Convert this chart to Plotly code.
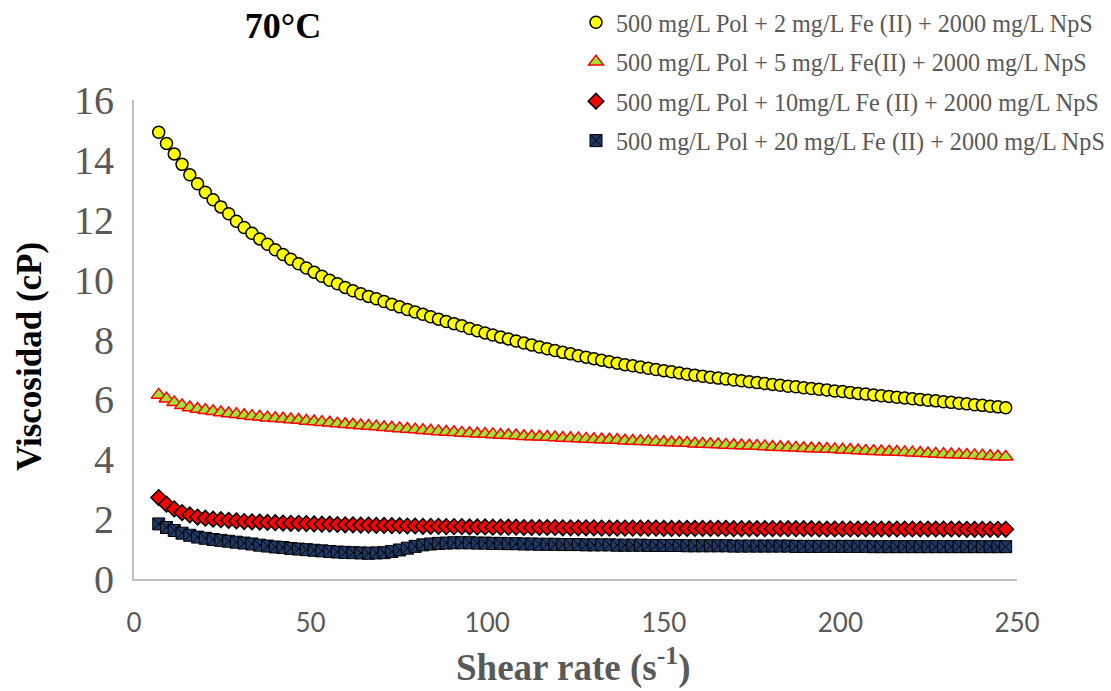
import plotly.graph_objects as go

shear_rate = [7.0, 9.2, 11.4, 13.6, 15.8, 18.0, 20.2, 22.4, 24.6, 26.8,
              29.0, 31.2, 33.4, 35.6, 37.8, 40.0, 42.2, 44.4, 46.6, 48.8,
              51.0, 53.2, 55.4, 57.6, 59.8, 62.0, 64.2, 66.4, 68.6, 70.8,
              73.0, 75.2, 77.4, 79.6, 81.8, 84.0, 86.2, 88.4, 90.6, 92.8,
              95.0, 97.2, 99.4, 101.6, 103.8, 106.0, 108.2, 110.4, 112.6, 114.8,
              117.0, 119.2, 121.4, 123.6, 125.8, 128.0, 130.2, 132.4, 134.6, 136.8,
              139.0, 141.2, 143.4, 145.6, 147.8, 150.0, 152.2, 154.4, 156.6, 158.8,
              161.0, 163.2, 165.4, 167.6, 169.8, 172.0, 174.2, 176.4, 178.6, 180.8,
              183.0, 185.2, 187.4, 189.6, 191.8, 194.0, 196.2, 198.4, 200.6, 202.8,
              205.0, 207.2, 209.4, 211.6, 213.8, 216.0, 218.2, 220.4, 222.6, 224.8,
              227.0, 229.2, 231.4, 233.6, 235.8, 238.0, 240.2, 242.4, 244.6, 246.8]

visc_fe2 = [14.92, 14.55, 14.2, 13.85, 13.5, 13.2, 12.92, 12.67, 12.43, 12.2,
            11.95, 11.74, 11.55, 11.36, 11.18, 11.0, 10.84, 10.68, 10.53, 10.39,
            10.25, 10.11, 9.98, 9.86, 9.74, 9.63, 9.53, 9.44, 9.36, 9.27,
            9.18, 9.09, 9.0, 8.92, 8.84, 8.76, 8.68, 8.6, 8.53, 8.46,
            8.37, 8.29, 8.22, 8.15, 8.08, 8.02, 7.95, 7.88, 7.82, 7.75,
            7.69, 7.63, 7.57, 7.52, 7.46, 7.41, 7.36, 7.31, 7.26, 7.21,
            7.16, 7.12, 7.08, 7.04, 7.0, 6.96, 6.92, 6.88, 6.84, 6.81,
            6.77, 6.74, 6.71, 6.68, 6.65, 6.62, 6.59, 6.56, 6.53, 6.5,
            6.47, 6.44, 6.42, 6.39, 6.36, 6.34, 6.31, 6.28, 6.26, 6.23,
            6.2, 6.18, 6.15, 6.12, 6.1, 6.07, 6.05, 6.02, 6.0, 5.97,
            5.95, 5.92, 5.9, 5.87, 5.85, 5.82, 5.8, 5.77, 5.75, 5.72]

visc_fe5 = [6.15, 6.02, 5.9, 5.8, 5.73, 5.68, 5.64, 5.6, 5.56, 5.53,
            5.5, 5.47, 5.44, 5.42, 5.39, 5.37, 5.35, 5.33, 5.31, 5.28,
            5.26, 5.24, 5.22, 5.19, 5.17, 5.15, 5.13, 5.11, 5.09, 5.07,
            5.05, 5.03, 5.01, 4.99, 4.97, 4.95, 4.93, 4.91, 4.9, 4.88,
            4.87, 4.85, 4.84, 4.83, 4.81, 4.8, 4.79, 4.77, 4.76, 4.75,
            4.74, 4.73, 4.71, 4.7, 4.69, 4.68, 4.67, 4.66, 4.65, 4.64,
            4.62, 4.61, 4.6, 4.59, 4.58, 4.57, 4.56, 4.55, 4.54, 4.52,
            4.51, 4.5, 4.49, 4.48, 4.47, 4.46, 4.45, 4.44, 4.43, 4.41,
            4.4, 4.39, 4.38, 4.37, 4.36, 4.35, 4.34, 4.33, 4.32, 4.31,
            4.29, 4.28, 4.27, 4.26, 4.25, 4.24, 4.23, 4.22, 4.21, 4.19,
            4.18, 4.17, 4.16, 4.15, 4.14, 4.13, 4.12, 4.1, 4.09, 4.08]

visc_fe10 = [2.72, 2.5, 2.34, 2.22, 2.14, 2.07, 2.03, 2.0, 1.98, 1.96,
             1.94, 1.92, 1.91, 1.9, 1.89, 1.88, 1.87, 1.86, 1.86, 1.85,
             1.84, 1.83, 1.83, 1.82, 1.81, 1.81, 1.8, 1.8, 1.79, 1.79,
             1.78, 1.78, 1.77, 1.77, 1.76, 1.76, 1.76, 1.75, 1.75, 1.75,
             1.74, 1.74, 1.74, 1.73, 1.73, 1.73, 1.73, 1.72, 1.72, 1.72,
             1.72, 1.72, 1.71, 1.71, 1.71, 1.71, 1.71, 1.7, 1.7, 1.7,
             1.7, 1.7, 1.7, 1.7, 1.7, 1.69, 1.69, 1.69, 1.69, 1.69,
             1.69, 1.69, 1.69, 1.69, 1.68, 1.68, 1.68, 1.68, 1.68, 1.68,
             1.68, 1.68, 1.68, 1.68, 1.68, 1.67, 1.67, 1.67, 1.67, 1.67,
             1.67, 1.67, 1.67, 1.67, 1.67, 1.67, 1.67, 1.67, 1.67, 1.67,
             1.67, 1.67, 1.67, 1.67, 1.66, 1.66, 1.66, 1.66, 1.66, 1.66]

visc_fe20 = [1.84, 1.72, 1.62, 1.53, 1.46, 1.4, 1.36, 1.32, 1.29, 1.26,
             1.23, 1.2, 1.17, 1.13, 1.1, 1.07, 1.05, 1.02, 1.0, 0.98,
             0.96, 0.94, 0.92, 0.9, 0.89, 0.88, 0.87, 0.86, 0.87, 0.88,
             0.92, 0.97, 1.03, 1.09, 1.14, 1.17, 1.19, 1.2, 1.21, 1.21,
             1.21, 1.2, 1.2, 1.19, 1.19, 1.18, 1.18, 1.17, 1.17, 1.16,
             1.16, 1.16, 1.15, 1.15, 1.15, 1.14, 1.14, 1.14, 1.14, 1.13,
             1.13, 1.13, 1.13, 1.12, 1.12, 1.12, 1.12, 1.12, 1.11, 1.11,
             1.11, 1.11, 1.11, 1.11, 1.1, 1.1, 1.1, 1.1, 1.1, 1.1,
             1.1, 1.1, 1.09, 1.09, 1.09, 1.09, 1.09, 1.09, 1.09, 1.09,
             1.09, 1.09, 1.08, 1.08, 1.08, 1.08, 1.08, 1.08, 1.08, 1.08,
             1.08, 1.08, 1.08, 1.08, 1.08, 1.08, 1.08, 1.08, 1.08, 1.08]

series_names = [
    "500 mg/L Pol + 2 mg/L Fe (II) + 2000 mg/L NpS",
    "500 mg/L Pol + 5 mg/L Fe(II) + 2000 mg/L NpS",
    "500 mg/L Pol + 10mg/L Fe (II) + 2000 mg/L NpS",
    "500 mg/L Pol + 20 mg/L Fe (II) + 2000 mg/L NpS",
]

x_ticks = [0, 50, 100, 150, 200, 250]
y_ticks = [0, 2, 4, 6, 8, 10, 12, 14, 16]

styles = [
    dict(symbol="circle", size=12, color="#FFFF00", line=dict(color="#000000", width=1.5)),
    dict(symbol="triangle-up", size=13, color="#99E633", line=dict(color="#FF0000", width=1.5)),
    dict(symbol="diamond", size=12, color="#FF0000", line=dict(color="#000000", width=1.5)),
    dict(symbol="square-x", size=12, color="#1F3864", line=dict(color="#000000", width=1)),
]

fig = go.Figure()
for i, (name, vals) in enumerate(zip(series_names, [visc_fe2, visc_fe5, visc_fe10, visc_fe20])):
    fig.add_trace(go.Scatter(
        x=shear_rate, y=vals, mode="markers", name=name,
        marker=styles[i], legendgroup=f"g{i}",
    ))

L, R, T, B = 134, 94, 100, 112
W, H = 1111, 691
pw = W - L - R
ph = H - T - B

fig.update_layout(
    width=W, height=H,
    margin=dict(l=L, r=R, t=T, b=B, autoexpand=False),
    plot_bgcolor="white", paper_bgcolor="white",
    showlegend=True,
    legend=dict(
        xref="container", yref="container",
        x=576 / W, y=1 - 0 / H, xanchor="left", yanchor="top",
        font=dict(family="Liberation Serif", size=24.2, color="#595959"),
        bgcolor="rgba(0,0,0,0)", tracegroupgap=5,
        itemsizing="trace", itemwidth=30,
    ),
    title=dict(
        text="<b>70°C</b>", xref="container", yref="container",
        x=283 / W, y=1 - 25 / H, xanchor="center", yanchor="middle",
        font=dict(family="Liberation Serif", size=36, color="#000000"),
    ),
    xaxis=dict(
        range=[0, 250], tickvals=x_ticks, ticktext=[str(v) for v in x_ticks],
        showline=True, linecolor="#BFBFBF", linewidth=2, showgrid=False, zeroline=False,
        ticks="", ticklabelstandoff=20,
        tickfont=dict(family="Lato", size=26, color="#595959"),
    ),
    yaxis=dict(
        range=[0, 16], tickvals=y_ticks, ticktext=[str(v) for v in y_ticks],
        showline=True, linecolor="#BFBFBF", linewidth=2, showgrid=False, zeroline=False,
        ticks="", ticklabelstandoff=10,
        tickfont=dict(family="Liberation Serif", size=40, color="#595959"),
    ),
    annotations=[
        dict(text="<b>Viscosidad (cP)</b>", xref="paper", yref="paper",
             x=(30 - L) / pw, y=(H - B - 357) / ph, textangle=-90, showarrow=False,
             xanchor="center", yanchor="middle",
             font=dict(family="Liberation Serif", size=35, color="#000000")),
        dict(text="<b>Shear rate (s<sup>-1</sup>)</b>", xref="paper", yref="paper",
             x=(573 - L) / pw, y=-(665 - (H - B)) / ph, showarrow=False,
             xanchor="center", yanchor="middle",
             font=dict(family="Liberation Serif", size=37, color="#595959")),
    ],
)

fig.write_html("out.html")
